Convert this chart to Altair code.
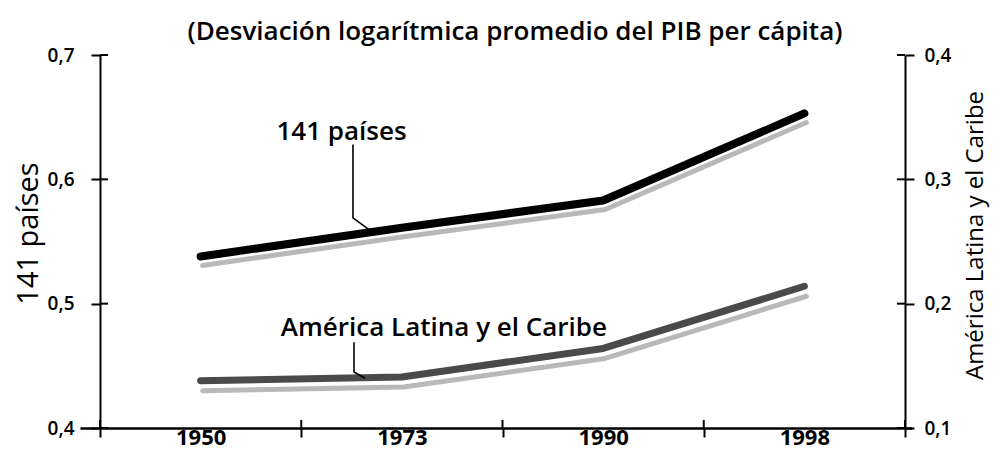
import altair as alt
import pandas as pd

# ---- data ----
years = ["1950", "1973", "1990", "1998"]
pos = [0, 1, 2, 3]
world = [0.538, 0.561, 0.583, 0.653]      # 141 países (left axis)
latam = [0.138, 0.141, 0.164, 0.214]      # América Latina y el Caribe (right axis)

left_ticks = [0.4, 0.5, 0.6, 0.7]
right_ticks = [0.1, 0.2, 0.3, 0.4]
x_values = [-0.5, 0, 0.5, 1, 1.5, 2, 2.5, 3, 3.5]
x_edges = [-0.5, 0.5, 1.5, 2.5, 3.5]

title_text = "(Desviación logarítmica promedio del PIB per cápita)"
world_label = "141 países"
latam_label = "América Latina y el Caribe"

# leader lines (annotation callouts)
lead_w_pos = [0.757, 0.757, 0.842]
lead_w_val = [0.628, 0.569, 0.559]
lead_l_pos = [0.762, 0.762, 0.817]
lead_l_val = [0.169, 0.145, 0.140]

# label anchors
lab_w = (0.70, 0.632)
lab_l = (1.209, 0.174)

FONT = "Open Sans"

world_df = pd.DataFrame({"pos": pos, "v": world})
latam_df = pd.DataFrame({"pos": pos, "v": latam})
lead_w_df = pd.DataFrame({"pos": lead_w_pos, "v": lead_w_val, "o": [0, 1, 2]})
lead_l_df = pd.DataFrame({"pos": lead_l_pos, "v": lead_l_val, "o": [0, 1, 2]})
lab_w_df = pd.DataFrame({"pos": [lab_w[0]], "v": [lab_w[1]], "t": [world_label]})
lab_l_df = pd.DataFrame({"pos": [lab_l[0]], "v": [lab_l[1]], "t": [latam_label]})

# inner halves of the crossing axis ticks
xtick_df = pd.DataFrame({"pos": x_edges, "v": [0.4] * len(x_edges), "v2": [0.4065] * len(x_edges)})
ltick_df = pd.DataFrame({"pos": [-0.5] * 4, "pos2": [-0.46] * 4, "v": left_ticks})
rtick_df = pd.DataFrame({"pos": [3.46] * 4, "pos2": [3.5] * 4, "v": right_ticks})

year_arr = "[" + ",".join("'" + y + "'" for y in years) + "]"
x_label_expr = "datum.value % 1 == 0 ? " + year_arr + "[datum.value] : ''"

X = alt.X(
    "pos:Q",
    title=None,
    scale=alt.Scale(domain=[-0.5994, 3.5348], nice=False, zero=False),
    axis=alt.Axis(
        values=x_values,
        labelExpr=x_label_expr,
        tickColor={"condition": {"test": "datum.value % 1 != 0", "value": "black"}, "value": "transparent"},
        tickSize=9,
        tickWidth=2,
        domainWidth=2.5,
        domainColor="black",
        labelFontSize=22,
        labelFontWeight="bold",
        labelPadding=-10,
        labelFlush=False,
        labelOverlap=False,
        labelColor="black",
        grid=False,
    ),
)

num_expr = "replace(format(datum.value, '.1f'), '.', ',')"

YL = alt.Y(
    "v:Q",
    scale=alt.Scale(domain=[0.4, 0.7], nice=False, zero=False),
    axis=alt.Axis(
        orient="left",
        values=left_ticks,
        labelExpr=num_expr,
        title=world_label,
        titleAngle=270,
        titleX=-72,
        titleY=178,
        titleAlign="center",
        titleBaseline="middle",
        titleFontSize=29,
        titleFontWeight="normal",
        labelFontSize=19,
        labelFontWeight=600,
        labelPadding=17,
        tickSize=9,
        tickWidth=2,
        domainWidth=2,
        offset=-20,
        grid=False,
    ),
)

YR = alt.Y(
    "v:Q",
    scale=alt.Scale(domain=[0.1, 0.4], nice=False, zero=False),
    axis=alt.Axis(
        orient="right",
        values=right_ticks,
        labelExpr=num_expr,
        title=latam_label,
        titleAngle=270,
        titleX=70,
        titleY=180,
        titleAlign="center",
        titleBaseline="middle",
        titleFontSize=24,
        titleFontWeight="normal",
        labelFontSize=19,
        labelFontWeight=600,
        labelPadding=10,
        tickSize=9,
        tickWidth=2,
        domainWidth=2,
        offset=-7,
        grid=False,
    ),
)

# left group
xt = alt.Chart(xtick_df).mark_rule(color="black", strokeWidth=2).encode(
    x=X, y=YL, y2="v2:Q"
)
lt = alt.Chart(ltick_df).mark_rule(color="black", strokeWidth=2).encode(
    x=X, x2="pos2:Q", y=YL
)
w_shadow = alt.Chart(world_df).mark_line(
    color="#b9b9b9", strokeWidth=5, yOffset=9, xOffset=2, strokeCap="round", strokeJoin="round"
).encode(x=X, y=YL)
w_line = alt.Chart(world_df).mark_line(
    color="black", strokeWidth=8, strokeCap="round", strokeJoin="round"
).encode(x=X, y=YL)
w_lead = alt.Chart(lead_w_df).mark_line(color="black", strokeWidth=1.6).encode(
    x=X, y=YL, order="o:Q"
)
w_text = alt.Chart(lab_w_df).mark_text(
    font=FONT, fontSize=26, align="center", baseline="alphabetic", color="black", fontWeight=600
).encode(x=X, y=YL, text="t:N")

left = alt.layer(w_shadow, w_line, w_lead, w_text, xt, lt)

# right group
rt = alt.Chart(rtick_df).mark_rule(color="black", strokeWidth=2).encode(
    x=X, x2="pos2:Q", y=YR
)
l_shadow = alt.Chart(latam_df).mark_line(
    color="#b9b9b9", strokeWidth=5, yOffset=10, xOffset=2, strokeCap="round", strokeJoin="round"
).encode(x=X, y=YR)
l_line = alt.Chart(latam_df).mark_line(
    color="#4a4a4a", strokeWidth=7, strokeCap="round", strokeJoin="round"
).encode(x=X, y=YR)
l_lead = alt.Chart(lead_l_df).mark_line(color="black", strokeWidth=1.6).encode(
    x=X, y=YR, order="o:Q"
)
l_text = alt.Chart(lab_l_df).mark_text(
    font=FONT, fontSize=26, align="center", baseline="alphabetic", color="black", fontWeight=600
).encode(x=X, y=YR, text="t:N")

right = alt.layer(l_shadow, l_line, l_lead, l_text, rt)

chart = (
    alt.layer(left, right)
    .resolve_scale(y="independent")
    .properties(
        width=832,
        height=373,
        autosize=alt.AutoSizeParams(type="none"),
        padding={"left": 72, "top": 47, "right": 80, "bottom": 24},
        title=alt.TitleParams(
            text=title_text,
            anchor="middle",
            frame="group",
            font=FONT,
            fontSize=26,
            fontWeight=600,
            color="black",
            dx=19,
            offset=1,
        ),
    )
    .configure_view(stroke=None)
    .configure_axis(
        labelFont=FONT,
        titleFont=FONT,
        labelColor="black",
        titleColor="black",
        domainColor="black",
        tickColor="black",
    )
)

chart.save("out.html", embed_options={"renderer": "svg", "actions": False})
